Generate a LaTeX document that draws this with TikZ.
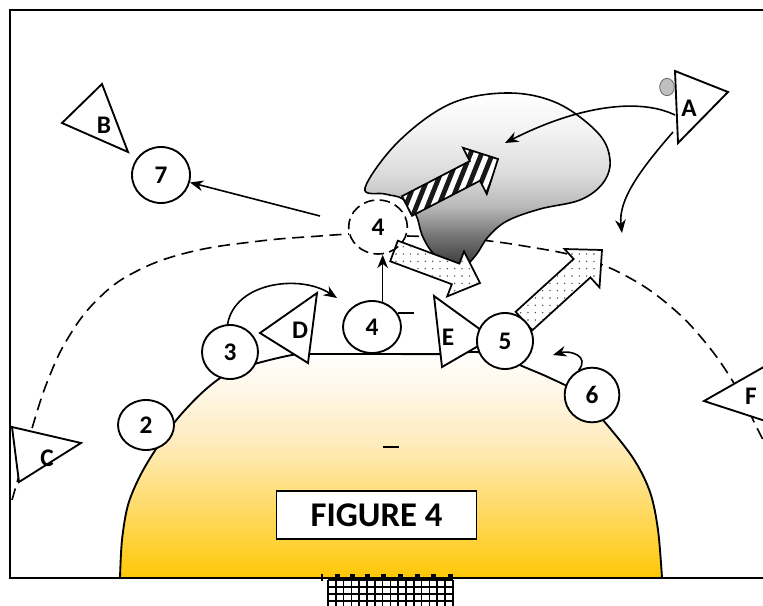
\documentclass[tikz,border=0pt]{standalone}
\usepackage{fontspec}
\setmainfont{Carlito}
\usetikzlibrary{arrows.meta,patterns,shapes.geometric,calc}
\pgfdeclarepatternformonly{sparsedots}{\pgfqpoint{-1pt}{-1pt}}{\pgfqpoint{1pt}{1pt}}{\pgfqpoint{5.5pt}{5.5pt}}{\pgfpathcircle{\pgfqpoint{0pt}{0pt}}{0.6pt}\pgfusepath{fill}}
\pgfdeclareverticalshading{cloudshade}{100bp}{color(0bp)=(black!76); color(25bp)=(black!76); color(28bp)=(black!72); color(34.5bp)=(black!54); color(43bp)=(black!27); color(52bp)=(black!14); color(64bp)=(black!5); color(75bp)=(white); color(100bp)=(white)}
\pgfdeclareverticalshading{domeshade}{100bp}{color(0bp)=({rgb,255:red,255;green,200;blue,5}); color(25bp)=({rgb,255:red,255;green,200;blue,5}); color(40bp)=({rgb,255:red,255;green,218;blue,100}); color(55bp)=({rgb,255:red,255;green,236;blue,190}); color(68bp)=({rgb,255:red,255;green,248;blue,235}); color(75bp)=(white); color(100bp)=(white)}
\begin{document}
\begin{tikzpicture}[x=0.75pt,y=-0.75pt,
  lbl/.style={font=\fontsize{19pt}{19pt}\selectfont\bfseries, inner sep=0pt},
  circ/.style={ellipse, draw, line width=1.4pt, fill=white, inner sep=0pt, font=\fontsize{19pt}{19pt}\selectfont\bfseries},
  tri/.style={draw, line width=1.4pt, fill=white, line join=miter},
  dasharc/.style={line width=1.2pt, dash pattern=on 9pt off 5pt},
  conn/.style={line width=1.2pt, -{Stealth[length=10pt,width=8pt]}},
  blockarr/.style={draw, line width=1.3pt, line join=miter}]
\useasboundingbox (0,0) rectangle (763,606);
\clip (0,0) rectangle (763,606);
\fill[white] (0,0) rectangle (763,606);

% dome
\def\domepath{plot[smooth, tension=0.55] coordinates {(120,578) (122,540) (128,505) (140,476) (156,449) (178,418) (205,390) (230,372) (258,363) (292,355) (310,354) (380,354) (445,354) (475,352) (500,356) (522,366) (550,378) (578,393) (603,420) (633,458) (650,492) (658,530) (662,578)}}
\shade[shading=domeshade] \domepath -- cycle;
\draw[line width=1.4pt] \domepath;

% frame
\draw[line width=1.5pt] (763,10) -- (10,10) -- (10,578) -- (763,578);

% grid at the bottom
\fill[white] (328,580) rectangle (453,606);
\foreach \gx in {328,335.8,...,454} \draw[line width=1.2pt] (\gx,580) -- (\gx,606);
\foreach \gy in {580,587,...,606} \draw[line width=1.2pt] (328,\gy) -- (453,\gy);
\fill (321,574) rectangle (323,581);
\foreach \tx in {335,350,365,381,398,415,431,448} \fill (\tx,574) rectangle (\tx+5,580);

% dashed arcs
\draw[dasharc] plot[smooth, tension=0.7] coordinates {(12,500) (22,465) (33,425) (48,380) (68,338) (97,300) (135,272) (190,252) (260,241) (320,236) (349,234)};
\draw[dasharc] plot[smooth, tension=0.7] coordinates {(407,236) (470,239) (530,247) (582,258) (628,277) (670,306) (705,342) (735,385) (757,428) (768,450)};

% grey cloud
\shade[shading=cloudshade, draw=black, line width=1.2pt]
  plot[smooth cycle, tension=0.6] coordinates {(365,188) (398,142) (450,104) (507,93) (557,103) (598,133) (610,160) (603,183) (580,200) (540,209) (507,221) (488,237) (476,255) (462,268) (446,263) (432,252) (422,235) (416,215) (403,199) (385,194)};

% striped arrow
\begin{scope}
  \clip (402,196.2) -- (469.8,161.1) -- (463,147.8) -- (498,159) -- (486.8,194) -- (480,180.7) -- (412,215.8) -- cycle;
  \fill[white] (390,140) rectangle (505,225);
  \foreach \k in {0,...,12} \draw[line width=3.6pt, black!90] (370+\k*11,240) -- (410+\k*11,140);
\end{scope}
\path[blockarr] (402,196.2) -- (469.8,161.1) -- (463,147.8) -- (498,159) -- (486.8,194) -- (480,180.7) -- (412,215.8) -- cycle;

% dotted arrows
\path[blockarr, fill=white] (397.8,240.7) -- (459.4,263.6) -- (464,251.4) -- (480,283) -- (447.2,296.4) -- (451.8,284.2) -- (390.2,261.3) -- cycle;
\path[pattern=sparsedots, pattern color=black!70] (397.8,240.7) -- (459.4,263.6) -- (464,251.4) -- (480,283) -- (447.2,296.4) -- (451.8,284.2) -- (390.2,261.3) -- cycle;
\path[blockarr, fill=white] (515.6,311.8) -- (573.6,259) -- (564.5,249) -- (602,250) -- (599.5,287.4) -- (590.4,277.4) -- (532.4,330.2) -- cycle;
\path[pattern=sparsedots, pattern color=black!70] (515.6,311.8) -- (573.6,259) -- (564.5,249) -- (602,250) -- (599.5,287.4) -- (590.4,277.4) -- (532.4,330.2) -- cycle;

% triangles
\draw[tri] (675,71) -- (728,92) -- (678,143) -- cycle;
\draw[tri] (102,84) -- (62,123) -- (128,152) -- cycle;
\draw[tri] (12,427) -- (81,443) -- (19,482) -- cycle;
\draw[tri] (317,293) -- (260,333) -- (308,363) -- cycle;
\draw[tri] (434,296) -- (492,338) -- (442,367) -- cycle;
\draw[tri] (704,401) -- (790,352) -- (790,429) -- cycle;
\node[lbl] (tA) at (689,108) {A};
\node[lbl] (tB) at (104,125) {B};
\node[lbl] (tC) at (47,458) {C};
\node[lbl] (tD) at (300,330) {D};
\node[lbl] (tE) at (448,337) {E};
\node[lbl] (tF) at (751,396) {F};
\node[ellipse, draw=black!60, fill=black!25, line width=0.6pt, minimum width=11pt, minimum height=13pt, inner sep=0pt] (dotA) at (667,87) {};

% circles
\node[circ, minimum width=42pt, minimum height=37.5pt] (n2) at (146,425) {2};
\node[circ, minimum width=42pt, minimum height=40.5pt] (n3) at (230,352) {3};
\node[circ, minimum width=43.5pt, minimum height=39pt] (s4) at (372,327) {4};
\node[circ, minimum width=42pt, minimum height=42pt] (n5) at (505,341) {5};
\node[circ, minimum width=41pt, minimum height=41pt] (n6) at (592,395) {6};
\node[circ, minimum width=43.5pt, minimum height=42pt] (n7) at (161,175) {7};
\node[circ, dash pattern=on 8pt off 4pt, line width=1.2pt, fill=none, minimum width=44pt, minimum height=40.5pt] (d4) at (378,227) {4};

% connectors
\coordinate (aL) at (675,115);
\coordinate (aB) at (673,132);
\coordinate (cloudpt) at (505,143);
\coordinate (downpt) at (622,233);
\coordinate (d4tail) at (320,216);
\coordinate (overD) at (337,298);
\coordinate (near5) at (553,355);
\draw[conn] (aL) .. controls (640,98) and (580,105) .. (cloudpt);
\draw[conn] (aB) .. controls (640,170) and (618,200) .. (downpt);
\draw[conn] (d4tail) -- (n7);
\draw[conn] (s4.67) -- (s4.67 |- d4.south);
\draw[line width=1.2pt] (398,313) -- (414,313);
\draw[conn] (n3.95) .. controls (235,282) and (300,274) .. (overD);
\draw[conn] (n6.118) .. controls (590,356) and (570,350) .. (near5);

% small mark
\draw[line width=2pt] (383,447) -- (399,447);

% caption box
\node[draw, line width=1.4pt, fill=white, minimum width=150pt, minimum height=36pt, font=\fontsize{26pt}{26pt}\selectfont\bfseries] (fig) at (376.5,515) {FIGURE 4};
\end{tikzpicture}
\end{document}
